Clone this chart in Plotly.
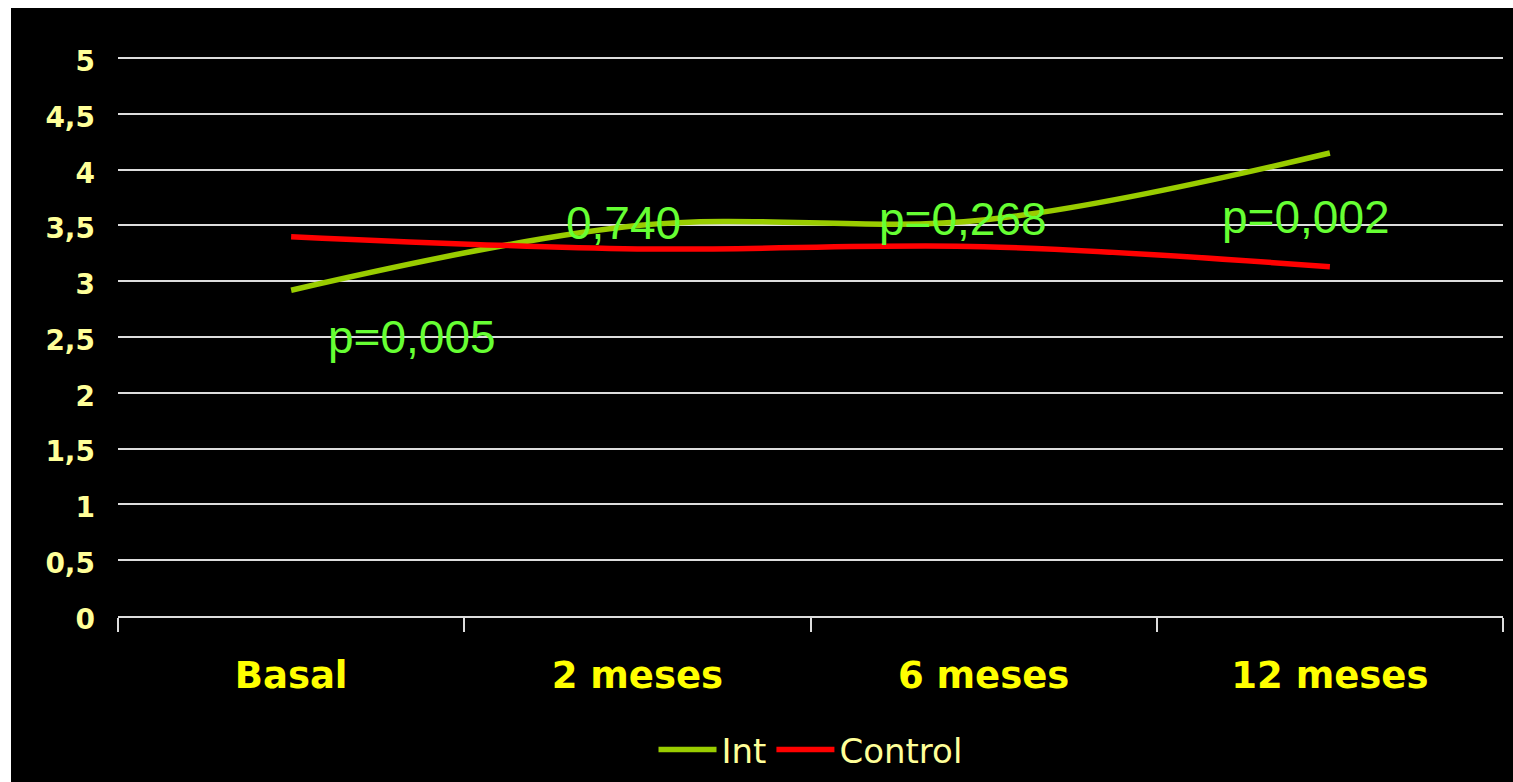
import plotly.graph_objects as go

# Periods of follow-up and mean scores per group
periods = ["Basal", "2 meses", "6 meses", "12 meses"]
int_values = [2.92, 3.50, 3.55, 4.15]
control_values = [3.40, 3.29, 3.31, 3.13]

# p-values shown next to each period
p_labels = ["p=0,005", "0,740", "p=0,268", "p=0,002"]
p_label_x = [0.35, 0.96, 1.94, 2.93]
p_label_y = [2.50, 3.52, 3.56, 3.58]

y_ticks = [0, 0.5, 1, 1.5, 2, 2.5, 3, 3.5, 4, 4.5, 5]
Y_MAX = 5.01  # slightly above the last tick so its gridline is drawn

W, H = 1513, 782
L, R, B = 118, 10, 166
T = 58 - round((Y_MAX - 5) / 5 * 558)
PW, PH = W - L - R, H - T - B


def px_x(px):
    return (px - L) / PW


def px_y(py):
    return (H - B - py) / PH


fig = go.Figure()
fig.add_trace(go.Scatter(
    x=periods, y=int_values, name="Int", mode="lines",
    line=dict(color="#99cc00", width=5.5, shape="spline", smoothing=1.0),
))
fig.add_trace(go.Scatter(
    x=periods, y=control_values, name="Control", mode="lines",
    line=dict(color="#ff0000", width=5.5, shape="spline", smoothing=1.0),
))

for txt, ax_, ay_ in zip(p_labels, p_label_x, p_label_y):
    fig.add_annotation(
        x=ax_, y=ay_, xref="x", yref="y", text=txt, showarrow=False,
        xanchor="center", yanchor="middle",
        font=dict(family="Liberation Sans", size=46, color="#66ff33"),
    )

# white strips along the left and top edges of the page
fig.add_shape(type="rect", xref="paper", yref="paper",
              x0=px_x(-20), x1=px_x(11), y0=px_y(H + 20), y1=px_y(-20),
              fillcolor="white", line=dict(width=0))
fig.add_shape(type="rect", xref="paper", yref="paper",
              x0=px_x(-20), x1=px_x(W + 20), y0=px_y(8), y1=px_y(-20),
              fillcolor="white", line=dict(width=0))

fig.update_layout(
    width=W, height=H,
    margin=dict(l=L, r=R, t=T, b=B, pad=0, autoexpand=False),
    paper_bgcolor="black", plot_bgcolor="black",
    separators=",.",
    showlegend=True,
    legend=dict(
        orientation="h", x=0.5, xanchor="center",
        yref="container", y=1 - 750 / H, yanchor="middle",
        font=dict(family="DejaVu Sans", size=34, color="#ffff99"),
        bgcolor="rgba(0,0,0,0)", itemwidth=58,
    ),
    xaxis=dict(
        type="category", tickson="boundaries",
        showline=True, linecolor="#dddddd", linewidth=2,
        ticks="outside", ticklen=14, tickwidth=2, tickcolor="#dddddd",
        showgrid=False, zeroline=False,
        tickfont=dict(family="DejaVu Sans", size=37, color="#ffff00", weight="bold"),
        ticklabelstandoff=26,
        range=[-0.5, 3.5],
    ),
    yaxis=dict(
        range=[0, Y_MAX], tickvals=y_ticks,
        showgrid=True, gridcolor="#dddddd", gridwidth=2,
        zeroline=False, showline=False, ticks="",
        tickfont=dict(family="DejaVu Sans", size=28, color="#ffff99", weight="bold"),
        ticklabelstandoff=22, ticklabelshift=3,
    ),
)

fig.write_html("out.html")
